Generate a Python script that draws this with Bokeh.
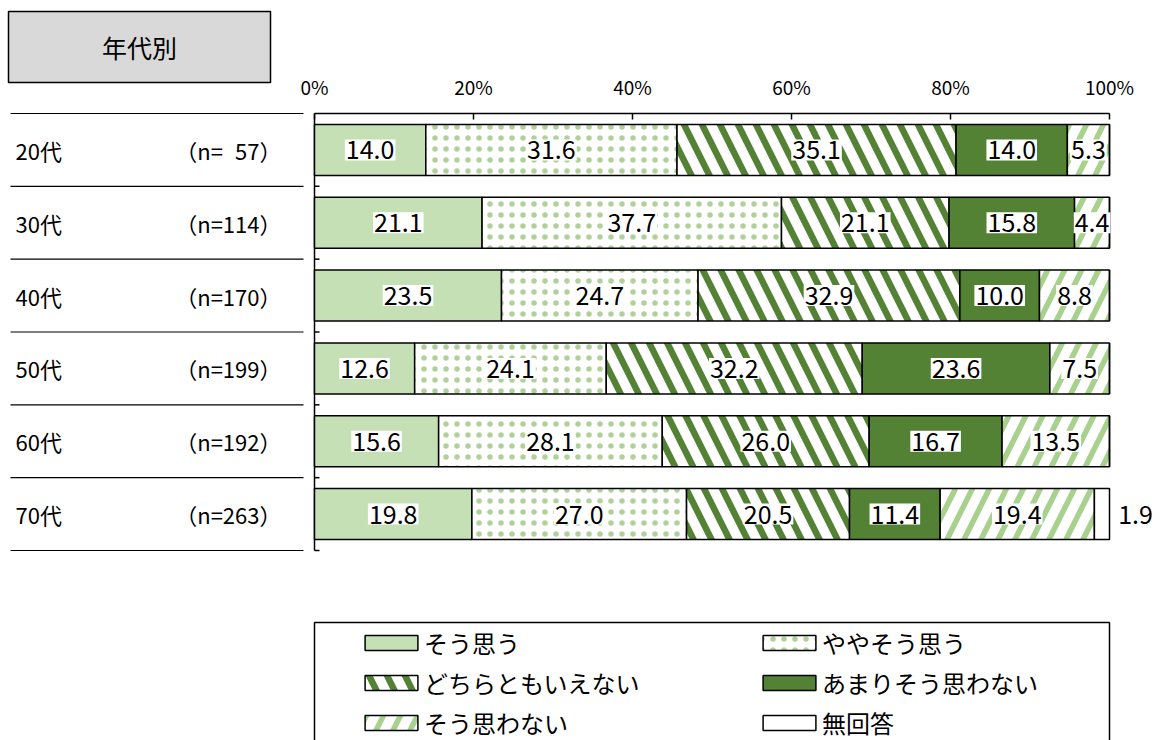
from bokeh.plotting import figure
from bokeh.models import (Range1d, FixedTicker, PrintfTickFormatter, Legend, LegendItem,
                          BoxAnnotation, ColumnDataSource)
from bokeh.core.properties import value
from bokeh.embed import file_html
from bokeh.resources import INLINE

# ---------------- data ----------------
ages = ["20代", "30代", "40代", "50代", "60代", "70代"]
n_counts = [57, 114, 170, 199, 192, 263]
series_names = ["そう思う", "ややそう思う", "どちらともいえない", "あまりそう思わない", "そう思わない", "無回答"]
sou_omou = [14.0, 21.1, 23.5, 12.6, 15.6, 19.8]
yaya_sou_omou = [31.6, 37.7, 24.7, 24.1, 28.1, 27.0]
dochira_tomo = [35.1, 21.1, 32.9, 32.2, 26.0, 20.5]
amari_sou_omowanai = [14.0, 15.8, 10.0, 23.6, 16.7, 11.4]
sou_omowanai = [5.3, 4.4, 8.8, 7.5, 13.5, 19.4]
mukaitou = [0.0, 0.0, 0.0, 0.0, 0.0, 1.9]
x_ticks = [0, 20, 40, 60, 80, 100]
header_text = ["年代別"]

series_values = [sou_omou, yaya_sou_omou, dochira_tomo, amari_sou_omowanai, sou_omowanai, mukaitou]

# ---------------- styles ----------------
FONT = "Noto Sans CJK JP"
styles = [
    dict(fill_color="#c5e0b4"),
    dict(fill_color="white", hatch_pattern="dot", hatch_color="#70ad47", hatch_alpha=0.55,
         hatch_scale=11, hatch_weight=0.5),
    dict(fill_color="white", hatch_pattern="left_diagonal_line", hatch_color="#548235", hatch_scale=36, hatch_weight=6.5),
    dict(fill_color="#548235"),
    dict(fill_color="white", hatch_pattern="right_diagonal_line", hatch_color="#a9d18e", hatch_scale=34, hatch_weight=5.5),
    dict(fill_color="white"),
]

# ---------------- layout (pixels) ----------------
W, H = 1163, 740
X0_PX, X100_PX = 314, 1109
TOP_PX, ROWS_BOTTOM_PX = 113, 550
SX = (X100_PX - X0_PX) / 100.0
RP = (ROWS_BOTTOM_PX - TOP_PX) / len(ages)


def dx(px):
    return (px - X0_PX) / SX


def dy(py):
    return (py - TOP_PX) / RP


p = figure(width=W, height=H, output_backend="svg", toolbar_location=None,
           x_range=Range1d(dx(0), dx(W)), y_range=Range1d(dy(H), dy(0)),
           x_axis_location="above", y_axis_type=None, min_border=0,
           min_border_left=0, min_border_right=0, min_border_top=0, min_border_bottom=0)
p.outline_line_color = None
p.grid.visible = False
p.background_fill_color = "white"

ax = p.xaxis[0]
ax.fixed_location = 0
ax.ticker = FixedTicker(ticks=x_ticks)
ax.bounds = (0, 100)
ax.formatter = PrintfTickFormatter(format="%d%%")
ax.major_tick_in = 6
ax.major_tick_out = 0
ax.minor_tick_in = 0
ax.minor_tick_out = 0
ax.axis_line_width = 1.5
ax.axis_line_color = "black"
ax.major_tick_line_width = 1.5
ax.major_tick_line_color = "black"
ax.major_label_text_font = FONT
ax.major_label_text_font_size = "19px"
ax.major_label_text_color = "black"
ax.major_label_standoff = 14

rows_y = [i + 0.5 for i in range(len(ages))]
bounds_y = list(range(len(ages) + 1))

# header box
p.quad(left=[dx(8)], right=[dx(270)], top=[dy(11)], bottom=[dy(82)],
       fill_color="#d9d9d9", line_color="black", line_width=1.5)
p.text(x=[(dx(8) + dx(270)) / 2], y=[(dy(11) + dy(82)) / 2], text=header_text,
       text_font=value(FONT), text_font_size="25px", text_align="center",
       text_baseline="middle", text_color="black")

# left separators
p.segment(x0=[dx(10)] * len(bounds_y), x1=[dx(303)] * len(bounds_y), y0=bounds_y, y1=bounds_y,
          line_color="black", line_width=1.2)
# left axis line + category boundary ticks
p.segment(x0=[0], x1=[0], y0=[0], y1=[len(ages)], line_color="black", line_width=1.5)
p.segment(x0=[0] * len(ages), x1=[5 / SX] * len(ages), y0=bounds_y[1:], y1=bounds_y[1:],
          line_color="black", line_width=1.5)

# bars (100% stacked, normalised like the original chart)
totals = [sum(s[i] for s in series_values) for i in range(len(ages))]
cum = [0.0] * len(ages)
renderers = []
lab_x, lab_y, lab_t = [], [], []
OUTSIDE_GAP = dx(1135) - dx(X100_PX)
for name, vals, st in zip(series_names, series_values, styles):
    left = []
    right = []
    for i, v in enumerate(vals):
        w = v / totals[i] * 100.0
        left.append(cum[i])
        right.append(cum[i] + w)
        cum[i] += w
    src = ColumnDataSource(dict(y=rows_y, left=left, right=right))
    r = p.hbar(y="y", left="left", right="right", height=0.7, source=src,
               line_color="black", line_width=1.5, **st)
    renderers.append(r)
    for i, v in enumerate(vals):
        if v <= 0:
            continue
        if name == "無回答":
            lab_x.append(right[i] + OUTSIDE_GAP)
        else:
            lab_x.append((left[i] + right[i]) / 2)
        lab_y.append(rows_y[i])
        lab_t.append(f"{v:.1f}")

p.text(x=lab_x, y=lab_y, text=lab_t, text_font=value(FONT), text_font_size="25px",
       text_align="center", text_baseline="middle", text_color="black",
       background_fill_color="white", padding=1)

# left category labels
p.text(x=[dx(15)] * len(ages), y=rows_y, text=ages, text_font=value(FONT), text_font_size="22px",
       text_align="left", text_baseline="middle", text_color="black")
n_labels = [f"（n={n:\u2007>3}）" for n in n_counts]
p.text(x=[dx(281)] * len(ages), y=rows_y, text=n_labels, text_font=value(FONT), text_font_size="22px",
       text_align="right", text_baseline="middle", text_color="black")

# legend box
p.add_layout(BoxAnnotation(left=0, right=100, top=dy(622), bottom=dy(H + 20),
                           fill_alpha=0, line_color="black", line_alpha=1, line_width=1.5))

items = [LegendItem(label=n, renderers=[r]) for n, r in zip(series_names, renderers)]
for col, x_px in ((0, 358), (1, 756)):
    lg = Legend(items=items[col::2], location=(x_px, 0), orientation="vertical",
                glyph_width=66, glyph_height=19, label_standoff=0, spacing=5,
                padding=0, margin=0, border_line_color=None, background_fill_alpha=0,
                label_text_font=FONT, label_text_font_size="24px", label_text_color="black")
    p.add_layout(lg)

open("out.html", "w").write(file_html(p, INLINE))
